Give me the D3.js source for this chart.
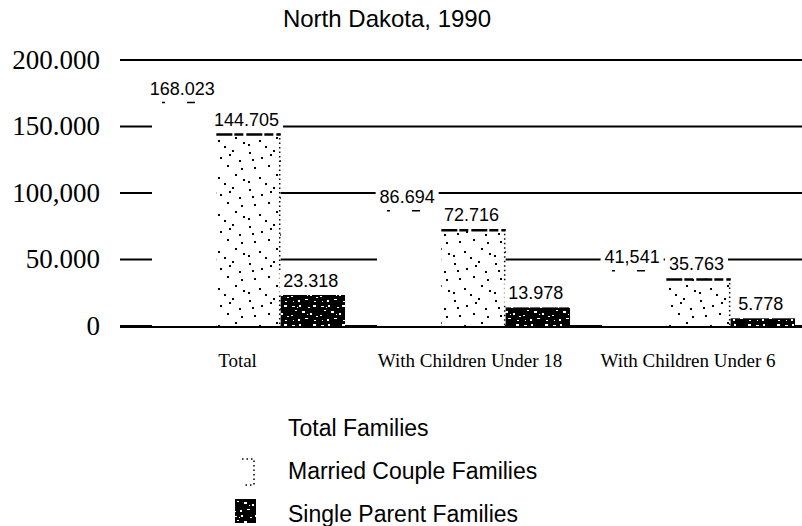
<!DOCTYPE html>
<html>
<head>
<meta charset="utf-8">
<script src="https://cdn.jsdelivr.net/npm/d3@7"></script>
<style>
  body { margin: 0; background: #fff; }
  svg { display: block; }
  .sans { font-family: "Liberation Sans", Arial, sans-serif; }
  .serif { font-family: "Liberation Serif", "Times New Roman", serif; }
</style>
</head>
<body>
<div id="chart"></div>
<script>
// data
let groups = ["Total", "With Children Under 18", "With Children Under 6"]
let series = ["Total Families", "Married Couple Families", "Single Parent Families"]
let totalFamilies = [168023, 86694, 41541]
let marriedFamilies = [144705, 72716, 35763]
let singleFamilies = [23318, 13978, 5778]
let valueLabels = [
    ["168.023", "86.694", "41,541"],
    ["144.705", "72.716", "35.763"],
    ["23.318", "13.978", "5.778"]
]
let yTicks = [0, 50000, 100000, 150000, 200000]
let yTickLabels = ["0", "50.000", "100,000", "150.000", "200.000"]

let width = 802, height = 526
let seriesValues = [totalFamilies, marriedFamilies, singleFamilies]

let svg = d3.select("#chart")
    .append("svg")
    .attr("width", width)
    .attr("height", height)

// textures for the scanned fills
let defs = svg.append("defs")
let mp = defs.append("pattern").attr("id", "married")
    .attr("patternUnits", "userSpaceOnUse").attr("width", 41).attr("height", 37)
mp.append("rect").attr("width", 41).attr("height", 37).attr("fill", "#fff")
;[[3, 4], [27, 2], [15, 9], [34, 12], [8, 19], [22, 17], [30, 26], [13, 29],
  [2, 33], [38, 31], [19, 35], [24, 6], [6, 11], [36, 20]].forEach(function(p) {
    mp.append("rect").attr("x", p[0]).attr("y", p[1]).attr("width", 2).attr("height", 2).attr("fill", "#000")
})
let sp = defs.append("pattern").attr("id", "single")
    .attr("patternUnits", "userSpaceOnUse").attr("width", 29).attr("height", 19)
sp.append("rect").attr("width", 29).attr("height", 19).attr("fill", "#000")
;[[2, 2, 3, 1], [9, 1, 2, 2], [5, 6, 2, 1], [12, 7, 3, 2], [1, 11, 2, 1], [7, 3, 1, 1],
  [18, 3, 2, 1], [23, 1, 3, 2], [20, 9, 2, 2], [26, 12, 2, 1], [15, 14, 3, 1],
  [8, 15, 2, 2], [3, 16, 1, 1], [24, 16, 2, 1], [17, 10, 1, 1]].forEach(function(p) {
    sp.append("rect").attr("x", p[0]).attr("y", p[1]).attr("width", p[2]).attr("height", p[3]).attr("fill", "#fff")
})

let x = d3.scaleBand()
    .domain(groups)
    .range([152, 795])
    .paddingInner(0.142)
    .paddingOuter(0)

let xs = d3.scaleBand()
    .domain(series)
    .range([0, x.bandwidth()])

let y = d3.scaleLinear()
    .domain([0, 200000])
    .range([326, 60])

// title
svg.append("text")
    .attr("class", "sans")
    .attr("x", 387)
    .attr("y", 27)
    .attr("text-anchor", "middle")
    .style("font-size", "24px")
    .text("North Dakota, 1990")

// gridlines + y labels
svg.append("g")
    .selectAll("line")
    .data(yTicks)
    .enter()
    .append("line")
    .attr("x1", 120)
    .attr("x2", width)
    .attr("y1", function(d) { return y(d) })
    .attr("y2", function(d) { return y(d) })
    .style("stroke", "#000")
    .style("stroke-width", 2)

svg.append("g")
    .selectAll("text")
    .data(yTicks)
    .enter()
    .append("text")
    .attr("class", "serif")
    .attr("x", 100)
    .attr("y", function(d) { return y(d) })
    .attr("dy", "0.33em")
    .attr("text-anchor", "end")
    .style("font-size", "27px")
    .text(function(d, i) { return yTickLabels[i] })

// bars
let fills = ["#fff", "url(#married)", "url(#single)"]
let bars = []
seriesValues.forEach(function(vals, s) {
    vals.forEach(function(v, g) {
        bars.push({ s: s, g: g, value: v, label: valueLabels[s][g] })
    })
})

function bx(d) { return x(groups[d.g]) + xs(series[d.s]) }

let barG = svg.append("g")
barG.selectAll("rect")
    .data(bars)
    .enter()
    .append("rect")
    .attr("x", bx)
    .attr("y", function(d) { return y(d.value) })
    .attr("width", xs.bandwidth())
    .attr("height", function(d) { return y(0) - y(d.value) })
    .attr("fill", function(d) { return fills[d.s] })

// scanned outline of the married bars
let married = bars.filter(function(d) { return d.s === 1 })
barG.selectAll("line.mtop")
    .data(married)
    .enter()
    .append("line")
    .attr("class", "mtop")
    .attr("x1", bx)
    .attr("x2", function(d) { return bx(d) + xs.bandwidth() })
    .attr("y1", function(d) { return y(d.value) + 1 })
    .attr("y2", function(d) { return y(d.value) + 1 })
    .style("stroke", "#000")
    .style("stroke-width", 2.5)
    .style("stroke-dasharray", "16,2,9,3")
barG.selectAll("line.mside")
    .data(married)
    .enter()
    .append("line")
    .attr("class", "mside")
    .attr("x1", function(d) { return bx(d) + xs.bandwidth() - 1 })
    .attr("x2", function(d) { return bx(d) + xs.bandwidth() - 1 })
    .attr("y1", function(d) { return y(d.value) })
    .attr("y2", y(0))
    .style("stroke", "#000")
    .style("stroke-width", 1.5)
    .style("stroke-dasharray", "1.5,3")

// faint top of the total bars
barG.selectAll("line.ttop")
    .data(bars.filter(function(d) { return d.s === 0 }))
    .enter()
    .append("line")
    .attr("class", "ttop")
    .attr("x1", function(d) { return bx(d) + 10 })
    .attr("x2", function(d) { return bx(d) + xs.bandwidth() })
    .attr("y1", function(d) { return y(d.value) })
    .attr("y2", function(d) { return y(d.value) })
    .style("stroke", "#000")
    .style("stroke-width", 1.5)
    .style("stroke-dasharray", "3,22,8,40")

// value labels on white boxes
let labG = svg.append("g")
let lab = labG.selectAll("g")
    .data(bars)
    .enter()
    .append("g")
lab.append("text")
    .attr("class", "sans")
    .attr("x", function(d) { return bx(d) + xs.bandwidth() / 2 - 2 })
    .attr("y", function(d) { return y(d.value) - 8 })
    .attr("text-anchor", "middle")
    .style("font-size", "18px")
    .text(function(d) { return d.label })
lab.each(function() {
    let t = d3.select(this).select("text")
    let b = t.node().getBBox()
    d3.select(this).insert("rect", "text")
        .attr("x", b.x - 4)
        .attr("y", b.y - 1)
        .attr("width", b.width + 8)
        .attr("height", b.height + 3)
        .attr("fill", "#fff")
})

// category labels (scan sets them a little left of the group centres)
let catShift = [-11, -3.5, -10.5]
svg.append("g")
    .selectAll("text")
    .data(groups)
    .enter()
    .append("text")
    .attr("class", "serif")
    .attr("x", function(d, i) { return x(d) + x.bandwidth() / 2 + catShift[i] })
    .attr("y", 367)
    .attr("text-anchor", "middle")
    .style("font-size", "19px")
    .text(function(d) { return d })

// baseline on top of the bars
svg.append("rect")
    .attr("x", 120)
    .attr("y", y(0))
    .attr("width", width - 120)
    .attr("height", 2)
    .attr("fill", "#000")

// legend
let leg = svg.append("g")
    .selectAll("g")
    .data(series)
    .enter()
    .append("g")
    .attr("transform", function(d, i) { return `translate(0, ${[428, 471, 514][i]})` })
leg.append("text")
    .attr("class", "sans")
    .attr("x", 288)
    .attr("y", 8)
    .style("font-size", "23px")
    .text(function(d) { return d })
leg.filter(function(d, i) { return i === 1 })
    .append("path")
    .attr("d", "M242,-12 L254,-12 L254,14 L244,14")
    .attr("fill", "none")
    .style("stroke", "#000")
    .style("stroke-width", 1.5)
    .style("stroke-dasharray", "1.5,3")
leg.filter(function(d, i) { return i === 2 })
    .append("rect")
    .attr("x", 235)
    .attr("y", -15)
    .attr("width", 21)
    .attr("height", 24)
    .attr("fill", "url(#single)")
</script>
</body>
</html>
